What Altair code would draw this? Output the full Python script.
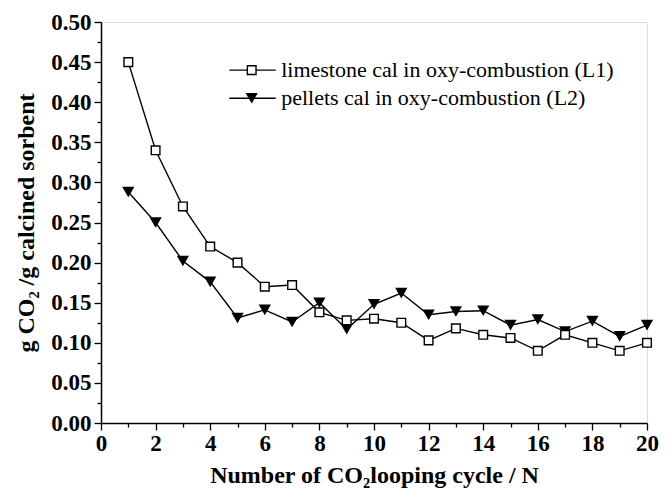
import altair as alt
import pandas as pd

cycles = list(range(1, 21))
l1_values = [0.450, 0.340, 0.270, 0.220, 0.200, 0.170, 0.172, 0.138, 0.128, 0.130,
             0.125, 0.103, 0.118, 0.110, 0.106, 0.090, 0.110, 0.100, 0.090, 0.100]
l2_values = [0.288, 0.250, 0.202, 0.176, 0.131, 0.141, 0.126, 0.150, 0.117, 0.148,
             0.162, 0.135, 0.139, 0.140, 0.122, 0.129, 0.114, 0.127, 0.108, 0.122]
series_names = ["limestone cal in oxy-combustion (L1)", "pellets cal in oxy-combustion (L2)"]

x_major = list(range(0, 21, 2))
x_minor = list(range(1, 20, 2))
y_major = [round(0.05 * i, 2) for i in range(11)]
y_minor = [round(0.025 + 0.05 * i, 3) for i in range(10)]

# legend placement (data units)
legend_x1, legend_x2, legend_xm, legend_xt = 4.7, 6.4, 5.52, 6.6
legend_y = [0.440, 0.405]

FONT = "Liberation Serif"

df1 = pd.DataFrame({"cycle": cycles, "val": l1_values})
df2 = pd.DataFrame({"cycle": cycles, "val": l2_values})
leg = pd.DataFrame({"x1": [legend_x1] * 2, "x2": [legend_x2] * 2, "xm": [legend_xm] * 2,
                    "xt": [legend_xt] * 2, "y": legend_y, "label": series_names})

xscale = alt.Scale(domain=[0, 20], nice=False, zero=False)
yscale = alt.Scale(domain=[0, 0.5], nice=False, zero=False)

x_axis = alt.Axis(values=x_major, orient="bottom", title="Number of CO\u2082looping cycle / N",
                  titleFont=FONT, titleFontSize=24, titleFontWeight="bold", titleColor="black",
                  titlePadding=8,
                  labelFont=FONT, labelFontSize=23, labelFontWeight="bold", labelColor="black",
                  labelPadding=2, tickSize=7, tickWidth=1.3, tickColor="black",
                  domainColor="black", domainWidth=1.5, grid=False, labelFlush=False)
y_axis = alt.Axis(values=y_major, orient="left", format=".2f", title="g CO\u2082 /g calcined sorbent",
                  titleFont=FONT, titleFontSize=24, titleFontWeight="bold", titleColor="black",
                  titlePadding=12,
                  labelFont=FONT, labelFontSize=23, labelFontWeight="bold", labelColor="black",
                  labelPadding=3, tickSize=7, tickWidth=1.3, tickColor="black",
                  domainColor="black", domainWidth=1.5, grid=False, labelFlush=False)

x_minor_axis = alt.Axis(values=x_minor, orient="bottom", labels=False, title=None, domain=False,
                        tickSize=4, tickWidth=1.3, tickColor="black", grid=False)
y_minor_axis = alt.Axis(values=y_minor, orient="left", labels=False, title=None, domain=False,
                        tickSize=4, tickWidth=1.3, tickColor="black", grid=False)


def X(field):
    return alt.X(field, scale=xscale, axis=None)


def Y(field):
    return alt.Y(field, scale=yscale, axis=None)


line2 = alt.Chart(df2).mark_line(color="black", strokeWidth=1.4).encode(
    x=alt.X("cycle:Q", scale=xscale, axis=x_axis),
    y=alt.Y("val:Q", scale=yscale, axis=y_axis),
)
minor = alt.Chart(df1).mark_point(opacity=0).encode(
    x=alt.X("cycle:Q", scale=xscale, axis=x_minor_axis),
    y=alt.Y("val:Q", scale=yscale, axis=y_minor_axis))
line1 = alt.Chart(df1).mark_line(color="black", strokeWidth=1.4).encode(
    x=X("cycle:Q"), y=Y("val:Q"))
pts2 = alt.Chart(df2).mark_point(shape="triangle-down", filled=True, color="black",
                                 size=150, opacity=1).encode(x=X("cycle:Q"), y=Y("val:Q"))
pts1 = alt.Chart(df1).mark_point(shape="square", fill="white", stroke="black", strokeWidth=1.4,
                                 size=75, opacity=1, fillOpacity=1).encode(x=X("cycle:Q"), y=Y("val:Q"))

leg_rule = alt.Chart(leg).mark_rule(color="black", strokeWidth=1.4).encode(
    x=X("x1:Q"), x2="x2:Q", y=Y("y:Q"))
leg_sq = alt.Chart(leg.iloc[[0]]).mark_point(shape="square", fill="white", stroke="black",
                                              strokeWidth=1.4, size=75, opacity=1, fillOpacity=1).encode(
    x=X("xm:Q"), y=Y("y:Q"))
leg_tri = alt.Chart(leg.iloc[[1]]).mark_point(shape="triangle-down", filled=True, color="black",
                                               size=150, opacity=1).encode(
    x=X("xm:Q"), y=Y("y:Q"))
leg_text = alt.Chart(leg).mark_text(align="left", baseline="middle", font=FONT, fontSize=22,
                                    color="black").encode(
    x=X("xt:Q"), y=Y("y:Q"), text="label:N")

chart = alt.layer(line2, minor, line1, pts2, pts1, leg_rule, leg_sq, leg_tri, leg_text).resolve_axis(
    x="independent", y="independent"
).properties(
    width=546, height=401,
    autosize=alt.AutoSizeParams(type="none"),
    padding={"left": 93, "top": 14, "right": 12, "bottom": 65},
).configure_view(stroke="black", strokeWidth=1.5).configure_text(font=FONT).configure(background="white")

chart.save("out.html", embed_options={"renderer": "svg", "actions": False})
